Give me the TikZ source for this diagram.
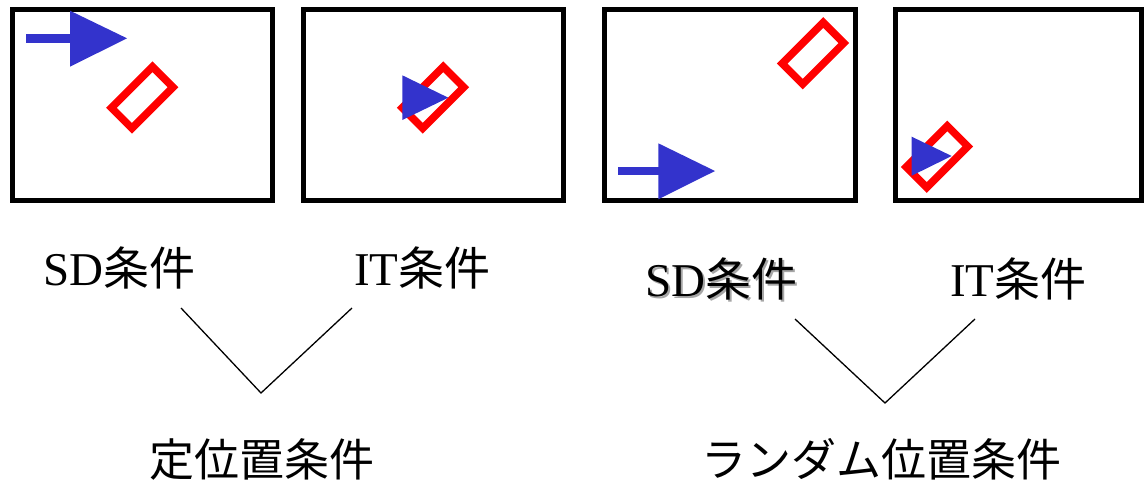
\documentclass[tikz,border=0pt]{standalone}
\usepackage{fontspec}
\setmainfont{Liberation Serif}
\newfontfamily\jp{Noto Sans CJK JP}
\definecolor{arrowblue}{RGB}{51,51,204}
\newcommand{\jplbl}[1]{{\jp\fontsize{46}{54}\selectfont #1}}
\newcommand{\shadowed}[1]{\makebox[0pt][l]{\hspace{2.5pt}\raisebox{-2.5pt}{\color{black!35}#1}}#1}
\begin{document}
\begin{tikzpicture}[x=1pt,y=-1pt,
  frame/.style={draw=black,line width=5pt},
  target/.style={draw=red,line width=7.5pt,rectangle,minimum width=58pt,minimum height=29pt,inner sep=0pt,rotate=45},
  cursor/.style={fill=arrowblue,draw=none},
  lbl/.style={inner sep=0pt,anchor=base west,font=\fontsize{47}{55}\selectfont},
  big/.style={inner sep=0pt,anchor=center,font=\jp\fontsize{45}{54}\selectfont},
  vline/.style={draw=black,line width=1.3pt}]
\useasboundingbox (0,0) rectangle (1144,482);
% frames
\draw[frame] (12,9.2) rectangle (272,200.3);
\draw[frame] (303,9.2) rectangle (563.5,200.3);
\draw[frame] (604,9.2) rectangle (855,200.3);
\draw[frame] (895,9.2) rectangle (1141.5,200.5);
% red targets
\node[target] (t1) at (142.2,97.5) {};
\node[target] (t2) at (433,97.5) {};
\node[target] (t3) at (813,53.3) {};
\node[target] (t4) at (937,156.7) {};
% blue arrows
\fill[cursor] (26,34.2) rectangle (70.5,42.5);
\fill[cursor] (70,10.7) -- (70,66.7) -- (127,38.3) -- cycle;
\fill[cursor] (402.3,75.3) -- (402.3,120) -- (448.3,97.7) -- cycle;
\fill[cursor] (618,167.2) rectangle (658.8,175);
\fill[cursor] (658.3,143.3) -- (658.3,199.3) -- (715,171) -- cycle;
\fill[cursor] (911.7,136.7) -- (911.7,175.7) -- (951.7,156) -- cycle;
% labels
\node[lbl] (sd1) at (43,285) {SD\jplbl{条件}};
\node[lbl] (it1) at (354,285) {IT\jplbl{条件}};
\node[lbl] (sd2) at (645,296) {\shadowed{SD\jplbl{条件}}};
\node[lbl] (it2) at (950,296) {IT\jplbl{条件}};
\node[big] (fixed) at (261.5,459) {定位置条件};
\node[big] (random) at (881.7,459) {ランダム位置条件};
% V connectors
\coordinate (l1) at (181,308);
\coordinate (v1) at (261,393);
\coordinate (r1) at (352,308);
\draw[vline] (l1) -- (v1) -- (r1);
\coordinate (l2) at (795,319);
\coordinate (v2) at (885,403);
\coordinate (r2) at (975,319);
\draw[vline] (l2) -- (v2) -- (r2);
\end{tikzpicture}
\end{document}
